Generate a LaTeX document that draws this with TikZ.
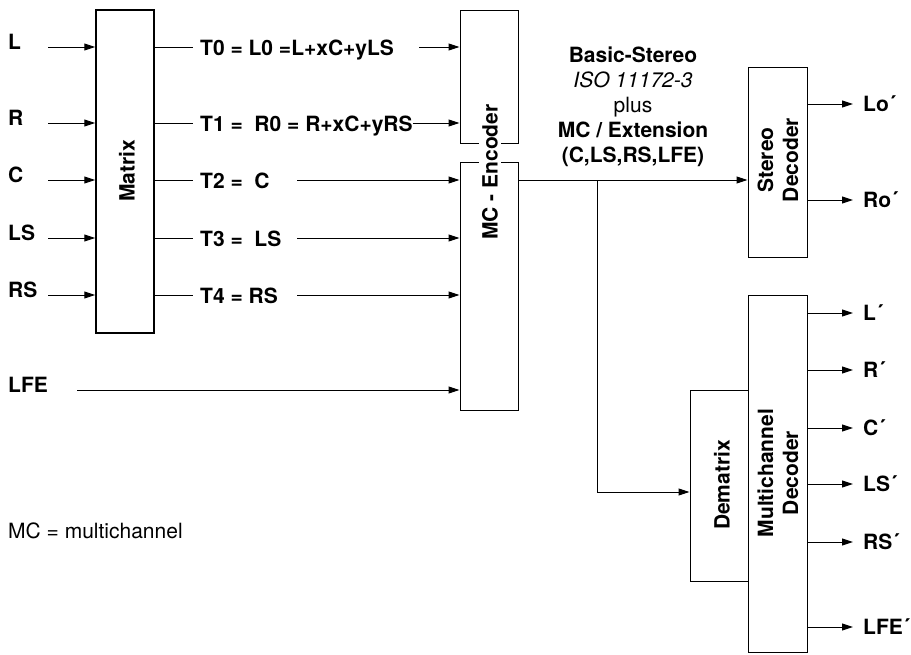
\documentclass[tikz,border=0pt]{standalone}
\usepackage{fontspec}
\setmainfont{TeX Gyre Heros}
\usetikzlibrary{arrows.meta}
\begin{document}
\begin{tikzpicture}[x=1pt,y=-1pt,
  lw/.style={line width=1pt},
  arr/.style={line width=1pt,-{Triangle[length=11pt,width=7pt]}},
  box/.style={draw,line width=1pt,inner sep=0pt},
  lbl/.style={font=\fontsize{21}{25}\selectfont\bfseries,inner sep=0pt,anchor=base west},
  ctxt/.style={font=\fontsize{21}{25}\selectfont,inner sep=0pt,anchor=base},
  vtxt/.style={font=\fontsize{21}{25}\selectfont\bfseries,rotate=90,align=center,inner sep=1pt},
]
\useasboundingbox (0,0) rectangle (911,654);

% boxes
\node[box,line width=1.5pt,minimum width=58pt,minimum height=323pt] (matrix) at (125,171.5) {};
\node[vtxt] (matrixtxt) at (127,171) {Matrix};
\node[box,minimum width=58pt,minimum height=133pt] (encU) at (489,76.5) {};
\node[box,minimum width=58pt,minimum height=248pt] (encL) at (489,286) {};
\node[vtxt,fill=white,inner sep=3pt] (enctxt) at (490,172) {MC - Encoder};
\node[box,minimum width=59pt,minimum height=190pt] (stereo) at (777.5,162) {};
\node[vtxt] (stereotxt) at (778,160) {Stereo\\Decoder};
\node[box,minimum width=58pt,minimum height=191pt] (demat) at (719,485.5) {};
\node[vtxt] (demattxt) at (722,485) {Dematrix};
\node[box,minimum width=59pt,minimum height=357.5pt] (mcdec) at (777.5,473.75) {};
\node[vtxt] (mcdectxt) at (778,473) {Multichannel\\Decoder};

% inputs
\foreach \n/\t/\y in {iL/L/47, iR/R/123, iC/C/180, iLS/LS/238, iRS/RS/295}{
  \node[lbl] (l\n) at (8,\y+2) {\t};
  \coordinate (\n) at (48,\y);
  \draw[arr] (\n) -- (\n -| matrix.west);
  \draw[lw] (\n -| matrix.east) -- ++(38,0);
}
\node[lbl] (lLFE) at (8,392) {LFE};
\coordinate (iLFE) at (77,390);
\draw[arr] (iLFE) -- (iLFE -| encL.west);

% T labels
\node[lbl] (t0) at (200,55) {T0 = L0 =L+xC+yLS};
\node[lbl] (t1) at (200,131) {T1 =\ \ R0 = R+xC+yRS};
\node[lbl] (t2) at (200,188) {T2 =\ \ C};
\node[lbl] (t3) at (200,246) {T3 =\ \ LS};
\node[lbl] (t4) at (200,303) {T4 = RS};
\coordinate (a0) at (419,47);
\draw[arr] (a0) -- (a0 -| encU.west);
\draw[arr] (t1.east |- iR) -- (iR -| encU.west);
\foreach \n in {iC,iLS,iRS}{
  \coordinate (s\n) at (297,0);
  \draw[arr] (s\n |- \n) -- (\n -| encL.west);
}

% encoder output
\coordinate (split) at (597,180);
\coordinate (dm) at (597,492);
\draw[arr] (encL.east |- split) -- (split -| stereo.west);
\draw[arr] (split) -- (dm) -- (dm -| demat.west);

% center text
\node[ctxt,font=\fontsize{21}{25}\selectfont\bfseries] (b1) at (633,62) {Basic-Stereo};
\node[ctxt,font=\fontsize{21}{25}\selectfont\itshape] (b2) at (633,87) {ISO 11172-3};
\node[ctxt] (b3) at (633,112) {plus};
\node[ctxt,font=\fontsize{21}{25}\selectfont\bfseries] (b4) at (633,137) {MC / Extension};
\node[ctxt,font=\fontsize{21}{25}\selectfont\bfseries] (b5) at (633,162) {(C,LS,RS,LFE)};

% stereo outputs
\foreach \n/\t/\y in {oLo/Lo´/104, oRo/Ro´/200}{
  \coordinate (\n) at (853,\y);
  \draw[arr] (\n -| stereo.east) -- (\n);
  \node[lbl] (l\n) at (863,\y+7.5) {\t};
}
% multichannel outputs
\foreach \n/\t/\y in {oL/L´/313, oR/R´/370, oC/C´/428, oLS/LS´/484, oRS/RS´/542, oLFE/LFE´/627}{
  \coordinate (\n) at (853,\y);
  \draw[arr] (\n -| mcdec.east) -- (\n);
  \node[lbl] (l\n) at (863,\y+7.5) {\t};
}

\node[ctxt,anchor=base west] (mcnote) at (8,538) {MC = multichannel};
\end{tikzpicture}
\end{document}
